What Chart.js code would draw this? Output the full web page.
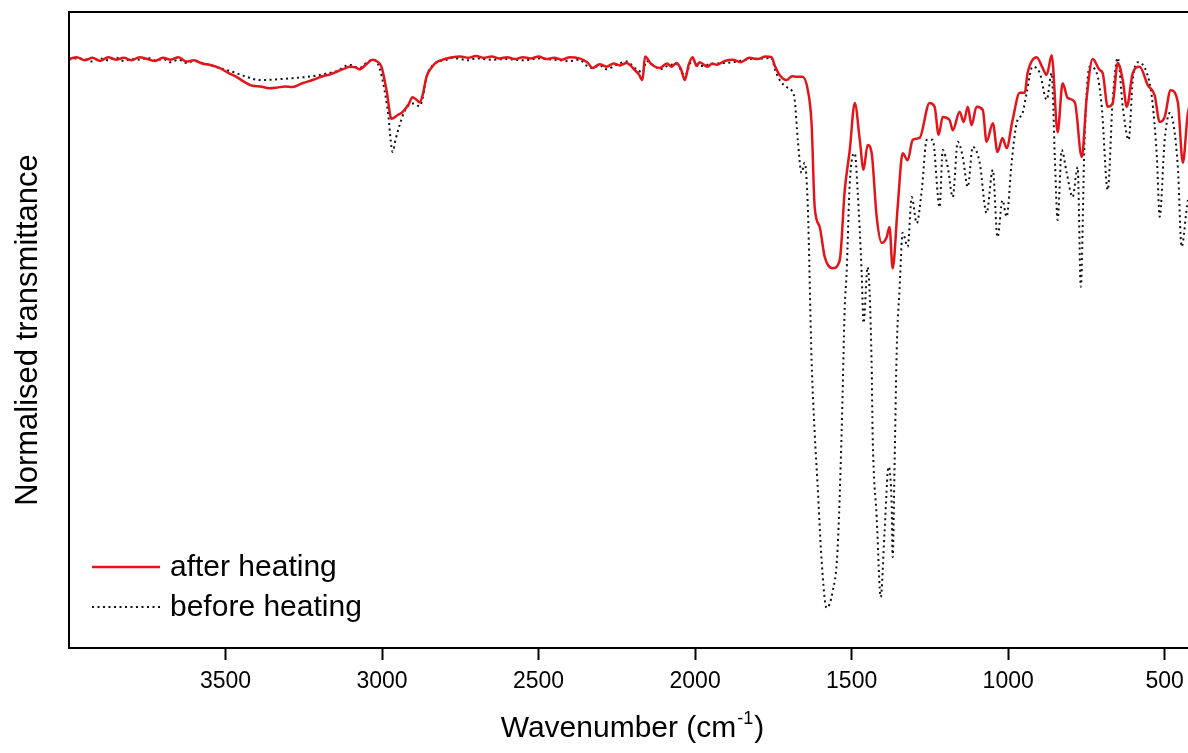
<!DOCTYPE html>
<html>
<head>
<meta charset="utf-8">
<title>IR spectra</title>
<script src="https://cdn.jsdelivr.net/npm/chart.js@4.4.1/dist/chart.umd.min.js"></script>
<style>
    html, body { margin: 0; padding: 0; background: #fff; overflow: hidden; }
    #wrap { position: relative; width: 1200px; height: 753px; }
</style>
</head>
<body>
<div id="wrap"><canvas id="myChart"></canvas></div>
<script>
// wavenumber (cm-1) / normalised transmittance (%) pairs
const afterWavenumber = [
    4000, 3975, 3950, 3925, 3900, 3875, 3850, 3825, 3800, 3775, 3750, 3725, 3700, 3675, 3650, 3625,
    3600, 3575, 3551, 3520, 3490, 3465, 3440, 3414, 3390, 3360, 3337, 3310, 3286, 3255, 3222, 3190,
    3165, 3145, 3120, 3104, 3085, 3072, 3050, 3030, 3015, 3002, 2985, 2970, 2950, 2934, 2915, 2903,
    2890, 2880, 2870, 2858, 2840, 2826, 2800, 2775, 2750, 2725, 2700, 2675, 2650, 2625, 2600, 2575,
    2550, 2525, 2500, 2475, 2450, 2425, 2400, 2370, 2345, 2327, 2305, 2283, 2260, 2240, 2219, 2195,
    2180, 2168, 2160, 2140, 2113, 2090, 2075, 2059, 2045, 2033, 2020, 2008, 1995, 1986, 1960, 1945,
    1931, 1905, 1880, 1855, 1826, 1800, 1775, 1756, 1745, 1730, 1708, 1690, 1676, 1657, 1640, 1628,
    1618, 1602, 1586, 1561, 1538, 1522, 1506, 1490, 1474, 1462, 1449, 1436, 1420, 1404, 1388, 1379,
    1369, 1353, 1337, 1321, 1305, 1283, 1251, 1235, 1222, 1209, 1187, 1177, 1155, 1142, 1129, 1117,
    1101, 1081, 1069, 1049, 1034, 1018, 1005, 986, 963, 947, 938, 909, 890, 877, 861, 842,
    826, 810, 787, 765, 749, 730, 708, 698, 682, 666, 650, 634, 621, 602, 580, 554,
    532, 516, 500, 481, 458, 442, 426, 410, 400
];
const afterTransmittance = [
    92.6, 92.9, 92.4, 92.8, 92.3, 92.9, 92.5, 92.8, 92.4, 92.9, 92.6, 92.3, 92.8, 92.5, 92.9, 92.2,
    92.4, 91.9, 91.7, 91.2, 90.4, 89.8, 89.0, 88.4, 88.3, 88.0, 88.1, 88.3, 88.2, 88.8, 89.3, 89.9,
    90.2, 90.6, 91.1, 91.4, 91.3, 91.0, 91.8, 92.5, 92.2, 91.4, 87.5, 83.2, 83.8, 84.3, 85.5, 86.6,
    86.2, 85.8, 87.0, 89.8, 91.4, 92.1, 92.6, 92.9, 93.0, 92.8, 93.1, 92.8, 93.0, 92.7, 92.9, 92.6,
    92.9, 92.7, 93.0, 92.6, 92.8, 92.5, 92.9, 92.7, 92.1, 91.2, 91.8, 91.4, 91.9, 91.6, 92.0, 91.0,
    90.2, 89.3, 93.0, 91.8, 91.2, 91.9, 91.4, 92.0, 91.0, 89.3, 91.8, 92.9, 91.5, 92.1, 91.4, 91.9,
    91.7, 92.3, 92.5, 92.1, 92.8, 92.6, 93.0, 92.9, 91.5, 90.1, 89.3, 89.9, 89.8, 89.8, 87.7, 82.5,
    69.3, 66.2, 61.5, 59.7, 61.0, 72.0, 78.3, 85.7, 79.9, 75.2, 79.1, 77.8, 67.8, 63.7, 64.6, 66.2,
    59.7, 69.3, 77.8, 76.7, 79.9, 80.2, 85.7, 85.1, 80.7, 83.5, 83.0, 81.4, 84.3, 82.7, 85.1, 82.2,
    85.1, 84.6, 79.6, 82.5, 78.0, 80.2, 78.6, 83.0, 87.3, 87.3, 90.4, 92.9, 91.2, 90.1, 93.2, 81.1,
    88.8, 86.5, 85.8, 77.2, 86.6, 92.6, 90.9, 90.4, 85.1, 85.7, 92.0, 89.3, 85.1, 90.4, 91.4, 88.5,
    86.9, 82.7, 83.5, 87.7, 85.8, 76.3, 84.1, 86.0, 85.0
];

const beforeWavenumber = [
    4000, 3975, 3950, 3925, 3900, 3875, 3850, 3825, 3800, 3775, 3750, 3725, 3700, 3675, 3650, 3625,
    3600, 3575, 3551, 3520, 3478, 3433, 3391, 3340, 3286, 3222, 3180, 3145, 3104, 3072, 3050, 3030,
    3015, 3002, 2982, 2966, 2957, 2944, 2930, 2919, 2900, 2880, 2870, 2858, 2840, 2826, 2800, 2775,
    2750, 2725, 2700, 2650, 2600, 2550, 2500, 2450, 2400, 2370, 2345, 2327, 2305, 2283, 2250, 2219,
    2190, 2168, 2155, 2130, 2113, 2085, 2059, 2033, 2008, 1986, 1960, 1931, 1880, 1826, 1780, 1756,
    1745, 1730, 1708, 1692, 1682, 1672, 1660, 1650, 1640, 1628, 1618, 1609, 1596, 1580, 1561, 1545,
    1532, 1522, 1516, 1506, 1490, 1481, 1468, 1462, 1449, 1436, 1433, 1420, 1407, 1395, 1382, 1372,
    1369, 1363, 1356, 1347, 1337, 1321, 1308, 1292, 1276, 1260, 1241, 1219, 1209, 1193, 1177, 1161,
    1145, 1129, 1113, 1091, 1069, 1049, 1034, 1018, 1005, 989, 973, 954, 941, 922, 899, 877,
    861, 851, 842, 829, 813, 794, 778, 768, 756, 740, 717, 701, 682, 666, 650, 634,
    615, 602, 586, 557, 541, 525, 516, 500, 484, 458, 446, 426, 410, 400
];
const beforeTransmittance = [
    92.5, 92.7, 92.6, 92.2, 92.7, 92.4, 92.8, 92.3, 92.6, 92.5, 92.8, 92.4, 92.6, 92.1, 92.5, 92.0,
    92.3, 92.0, 91.7, 91.2, 90.6, 89.8, 89.3, 89.4, 89.6, 89.9, 90.3, 90.7, 91.7, 91.2, 92.0, 92.5,
    92.0, 90.1, 84.6, 78.0, 79.9, 82.2, 84.2, 85.1, 85.6, 85.2, 86.5, 89.8, 91.5, 92.1, 92.4, 92.8,
    92.6, 92.4, 92.7, 92.5, 92.6, 92.4, 92.7, 92.5, 92.3, 92.5, 91.5, 91.2, 91.6, 91.0, 91.7, 92.2,
    91.1, 90.5, 92.3, 91.5, 91.0, 91.6, 91.8, 90.0, 92.5, 91.5, 91.7, 91.9, 92.1, 92.6, 92.7, 92.8,
    91.0, 89.3, 88.2, 87.7, 86.2, 79.9, 74.7, 76.3, 69.3, 45.3, 33.8, 25.9, 13.8, 6.3, 8.8, 15.4,
    33.8, 53.6, 59.0, 73.1, 77.8, 72.0, 59.0, 51.1, 59.9, 44.2, 33.8, 20.6, 8.0, 18.1, 28.5, 22.2,
    14.3, 28.5, 46.9, 56.3, 65.3, 63.1, 70.9, 66.8, 72.0, 79.9, 79.9, 69.3, 78.3, 75.6, 70.9, 79.6,
    77.2, 72.5, 78.8, 76.3, 68.4, 75.2, 64.6, 70.4, 67.8, 76.3, 82.5, 84.1, 87.3, 91.4, 90.4, 86.2,
    90.4, 77.2, 67.3, 78.3, 74.7, 70.9, 75.6, 56.8, 79.9, 91.4, 90.4, 85.1, 72.0, 86.2, 92.8, 85.1,
    79.9, 89.3, 92.1, 90.4, 86.6, 77.2, 67.8, 79.9, 84.1, 75.6, 63.1, 70.4, 72.0, 74.0
];

const xTickValues = [3500, 3000, 2500, 2000, 1500, 1000, 500];
const seriesLabels = ["after heating", "before heating"];

const fontName = "'Liberation Sans', Arial, sans-serif";

function toPoints(xs, ys){
    return xs.map((x, i) => ({ x: x, y: ys[i] }));
}

// frame, axis titles and the legend inside the plot
const decorations = {
    id: 'decorations',
    afterDraw(chart){
        const ctx = chart.ctx;
        const area = chart.chartArea;
        ctx.save();

        ctx.strokeStyle = '#000';
        ctx.lineWidth = 2;
        ctx.strokeRect(area.left, area.top, area.right - area.left, area.bottom - area.top);

        ctx.fillStyle = '#000';
        ctx.textBaseline = 'alphabetic';

        // x title with superscript
        ctx.font = `30px ${fontName}`;
        const main = 'Wavenumber (cm';
        const sup = '-1';
        const close = ')';
        const wMain = ctx.measureText(main).width;
        const wClose = ctx.measureText(close).width;
        ctx.font = `18px ${fontName}`;
        const wSup = ctx.measureText(sup).width;
        const total = wMain + wSup + wClose + 2;
        let x = (area.left + area.right) / 2 - total / 2;
        const base = 737;
        ctx.font = `30px ${fontName}`;
        ctx.textAlign = 'left';
        ctx.fillText(main, x, base);
        ctx.font = `18px ${fontName}`;
        ctx.fillText(sup, x + wMain + 1, base - 13);
        ctx.font = `30px ${fontName}`;
        ctx.fillText(close, x + wMain + wSup + 2, base);

        // y title
        ctx.save();
        ctx.translate(37, (area.top + area.bottom) / 2);
        ctx.rotate(-Math.PI / 2);
        ctx.textAlign = 'center';
        ctx.font = `31px ${fontName}`;
        ctx.fillText('Normalised transmittance', 0, 0);
        ctx.restore();

        // legend
        const sets = chart.data.datasets;
        const rows = [567, 607];
        ctx.font = `30px ${fontName}`;
        ctx.textAlign = 'left';
        ctx.textBaseline = 'middle';
        sets.forEach((ds, i) => {
            const y = rows[i];
            ctx.beginPath();
            ctx.strokeStyle = ds.borderColor;
            ctx.lineWidth = ds.borderWidth;
            ctx.setLineDash(ds.borderDash || []);
            ctx.moveTo(area.left + 23, y);
            ctx.lineTo(area.left + 91, y);
            ctx.stroke();
            ctx.setLineDash([]);
            ctx.fillText(ds.label, area.left + 101, y + 1);
        });

        ctx.restore();
    }
};

window.onload = () => {
    const ctx = document.getElementById('myChart').getContext('2d');

    new Chart(ctx, {
        type: 'line',
        data: {
            datasets: [{
                label: seriesLabels[0],
                data: toPoints(afterWavenumber, afterTransmittance),
                borderColor: '#e3151b',
                borderWidth: 2.5,
                pointRadius: 0,
                cubicInterpolationMode: 'monotone'
            }, {
                label: seriesLabels[1],
                data: toPoints(beforeWavenumber, beforeTransmittance),
                borderColor: '#111',
                borderWidth: 2,
                borderDash: [2, 3.5],
                pointRadius: 0,
                cubicInterpolationMode: 'monotone'
            }]
        },
        options: {
            responsive: true,
            maintainAspectRatio: false,
            animation: false,
            layout: { padding: { left: 69, top: 12, right: 4, bottom: 0 } },
            plugins: {
                legend: { display: false },
                tooltip: { enabled: false }
            },
            scales: {
                x: {
                    type: 'linear',
                    reverse: true,
                    min: 400,
                    max: 4000,
                    afterBuildTicks: (scale) => {
                        scale.ticks = xTickValues.map(v => ({ value: v }));
                    },
                    afterFit: (scale) => { scale.height = 105; },
                    border: { display: false },
                    grid: {
                        drawOnChartArea: false,
                        drawTicks: true,
                        tickLength: 12,
                        tickWidth: 2,
                        tickColor: '#000'
                    },
                    ticks: {
                        color: '#000',
                        padding: 8,
                        maxRotation: 0,
                        font: { family: fontName, size: 23 },
                        callback: (value) => String(value)
                    }
                },
                y: {
                    display: false,
                    min: 0,
                    max: 100
                }
            }
        },
        plugins: [decorations]
    });
}
</script>
</body>
</html>
